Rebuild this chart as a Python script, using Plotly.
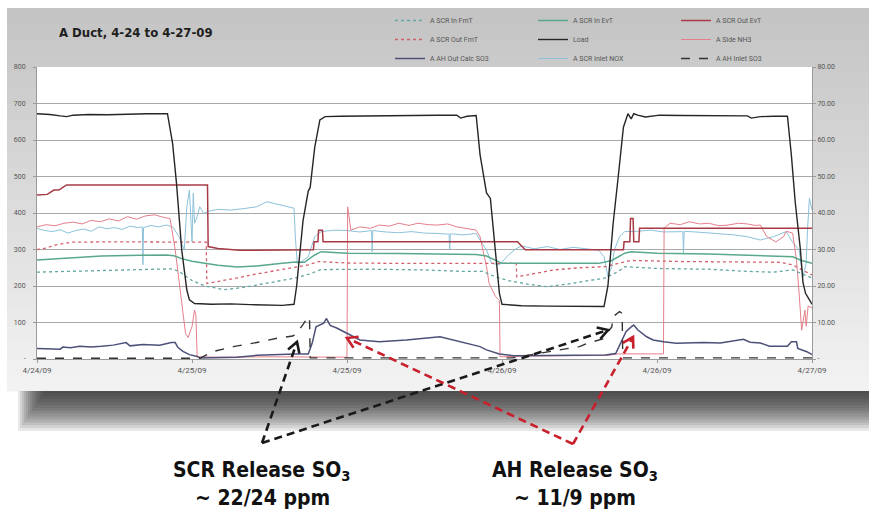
import pandas as pd
import plotly.graph_objects as go

# ---------------- data (hours after 4/24/09 12:00) ----------------
START = pd.Timestamp("2009-04-24 12:00")
tick_hours = [0, 12, 24, 36, 48, 60]
tick_labels = ["4/24/09", "4/25/09", "4/25/09", "4/26/09", "4/26/09", "4/27/09"]
left_ticks = [0, 100, 200, 300, 400, 500, 600, 700, 800]
left_labels = ["-", "100", "200", "300", "400", "500", "600", "700", "800"]
right_ticks = [0, 10, 20, 30, 40, 50, 60, 70, 80]
right_labels = ["-", "10.00", "20.00", "30.00", "40.00", "50.00", "60.00", "70.00", "80.00"]

load_h = [0, 1.0, 1.8, 2.3, 2.8, 4.0, 5.5, 7.0, 8.5, 9.5, 10.1, 10.5, 10.8, 11.2, 11.6,
          11.8, 12.2, 13.5, 15.0, 16.5, 18.0, 19.0, 19.9, 20.1, 20.6, 21.0, 21.15, 21.5, 21.9, 22.3,
          23.5, 25.0, 27.0, 29.0, 31.0, 32.5, 32.8, 33.3, 34.0, 34.3, 34.6, 34.8, 35.1, 35.5, 35.8,
          36.0, 37.5, 39.5, 41.5, 43.0, 43.9, 44.2, 44.6, 45.0, 45.4, 45.75, 46.0, 46.2, 46.5, 47.1,
          48.2, 50.0, 52.0, 54.0, 55.0, 55.3, 56.0, 57.0, 58.1, 58.4, 58.7, 59.1, 59.3, 59.5, 59.85, 60.0]
load_v = [672, 670, 666, 664, 668, 670, 669, 671, 672, 672, 672, 590, 481, 300, 189,
          162, 152, 150, 151, 149, 148, 147, 150, 200, 380, 460, 470, 580, 655, 664,
          665, 666, 667, 668, 668, 668, 660, 665, 667, 560, 500, 455, 440, 300, 180,
          150, 146, 145, 144, 143, 144, 200, 370, 500, 635, 672, 658, 672, 668, 663,
          668, 667, 667, 668, 666, 660, 664, 665, 665, 560, 430, 300, 210, 180, 160, 150]

scr_out_evt_h = [0, 0.8, 1.3, 1.7, 2.0, 2.3, 2.6, 13.2, 13.25, 14.0, 15.7, 21.4, 21.45, 21.75,
                 21.8, 22.1, 22.15, 37.2, 37.8, 45.4, 45.45, 45.9, 45.95, 46.15, 46.2, 46.6, 46.65, 60]
scr_out_evt_v = [449, 451, 463, 463, 470, 477, 477, 477, 308, 303, 298, 299, 321, 321,
                 353, 353, 321, 321, 299, 299, 321, 321, 385, 385, 321, 321, 358, 358]

scr_out_fmt_h = [0, 0.7, 1.4, 2.0, 2.7, 6.0, 10.0, 13.1, 13.15, 14.0, 15.5, 17.0, 19.0, 20.5, 21.0,
                 21.8, 24.0, 28.0, 32.0, 37.1, 37.15, 38.5, 40.0, 42.0, 44.0, 45.0, 46.0, 50.0, 54.0,
                 57.5, 58.5, 59.5, 60]
scr_out_fmt_v = [300, 304, 312, 316, 320, 321, 320, 320, 207, 212, 222, 233, 245, 253, 258,
                 267, 263, 262, 262, 262, 225, 235, 244, 250, 253, 262, 270, 267, 265,
                 265, 258, 240, 230]

scr_in_fmt_h = [0, 3, 6, 9, 10.4, 11.0, 12.0, 13.0, 14.5, 16.0, 18.0, 20.0, 21.0, 22.0, 26.0,
                30.0, 33.0, 34.5, 35.5, 36.5, 38.0, 39.5, 41.0, 43.0, 44.0, 45.0, 45.5, 48.0, 52.0,
                55.0, 57.0, 58.5, 59.5, 60]
scr_in_fmt_v = [238, 240, 243, 245, 247, 240, 215, 200, 190, 196, 210, 222, 232, 245, 246,
                244, 240, 240, 225, 215, 205, 198, 205, 217, 222, 240, 253, 248, 246,
                240, 238, 244, 230, 222]

scr_in_evt_h = [0, 2, 5, 8, 10, 10.6, 11.2, 12, 13, 14, 15.5, 17, 19, 20, 20.7, 21.5, 22, 24, 28, 32,
                34, 34.8, 35.5, 36, 40, 43.5, 44.5, 45.5, 46, 48, 52, 56, 58.5, 59.2, 60]
scr_in_evt_v = [271, 275, 282, 284, 285, 283, 275, 268, 262, 257, 252, 255, 262, 266, 265, 285, 294,
                290, 289, 288, 286, 282, 270, 262, 262, 262, 270, 290, 294, 290, 288, 284, 280, 270, 262]

nox_h = [0, 0.6, 1.2, 1.8, 2.4, 3.0, 3.6, 4.2, 4.8, 5.4, 6.0, 6.6, 7.2, 7.8, 8.15, 8.2, 8.25, 8.8,
         9.4, 10.0, 10.5, 11.0, 11.4, 11.6, 11.8, 12.0, 12.1, 12.2, 12.4, 12.6, 12.9, 13.3, 14.0,
         15.0, 16.0, 17.0, 17.8, 18.5, 19.0, 19.5, 19.9, 20.0, 20.15, 20.4, 21.0, 21.5, 22.0, 23.0,
         24.0, 25.0, 25.9, 25.95, 26.0, 27.0, 28.0, 29.0, 30.0, 31.0, 31.9, 31.95, 32.0, 33.0, 34.0,
         34.4, 34.8, 35.2, 35.8, 36.5, 37.0, 37.5, 38.5, 39.5, 40.5, 41.5, 42.5, 43.5, 43.9, 44.2,
         44.5, 44.7, 45.1, 45.5, 46.5, 47.5, 48.5, 49.5, 50.0, 50.05, 50.1, 51.0, 52.0, 53.0, 54.0,
         55.0, 55.5, 56.0, 57.0, 58.0, 58.5, 59.0, 59.3, 59.55, 59.65, 59.8, 60]
nox_v = [358, 352, 349, 354, 345, 352, 356, 350, 362, 357, 360, 355, 364, 360, 362, 258, 360, 366,
         362, 367, 362, 335, 299, 417, 463, 321, 454, 372, 390, 417, 399, 405, 410,
         408, 412, 417, 431, 425, 420, 415, 413, 335, 262, 265, 280, 335, 349, 353,
         352, 348, 352, 294, 352, 348, 346, 349, 345, 344, 342, 299, 343, 340, 344,
         320, 299, 262, 258, 285, 300, 310, 302, 308, 300, 306, 302, 298, 280, 225,
         253, 299, 335, 349, 350, 353, 348, 350, 349, 290, 350, 348, 346, 344, 340,
         335, 330, 326, 335, 349, 320, 299, 225, 262, 353, 440, 408]

nh3_h = [0, 0.7, 1.4, 2.1, 2.8, 3.5, 4.2, 4.9, 5.6, 6.3, 7.0, 7.7, 8.4, 9.1, 9.8, 10.3, 10.7, 11.1,
         11.5, 11.7, 12.0, 12.2, 12.3, 12.4, 14.0, 18.0, 22.0, 24.0, 24.05, 24.3, 25.0, 25.8, 26.5,
         27.3, 28.0, 28.8, 29.5, 30.3, 31.0, 31.8, 32.5, 33.3, 34.0, 34.3, 34.8, 35.0, 35.5, 35.8,
         35.85, 38.0, 42.0, 44.2, 45.0, 48.5, 48.55, 49.0, 49.8, 50.5, 51.3, 52.0, 52.8, 53.5, 54.3,
         55.0, 55.6, 56.0, 56.5, 57.2, 57.8, 58.0, 58.5, 58.8, 59.0, 59.2, 59.45, 59.55, 59.7, 60]
nh3_v = [362, 368, 365, 372, 375, 370, 380, 376, 384, 378, 390, 383, 392, 395, 388, 385, 299, 180,
         70, 59, 89, 134, 120, 6, 5, 6, 5, 5, 417, 353, 362, 358, 367,
         364, 372, 366, 372, 368, 367, 370, 362, 358, 353, 335, 253, 207, 171, 160,
         6, 8, 10, 10, 14, 14, 358, 372, 368, 376, 370, 372, 365, 367, 372,
         370, 366, 367, 335, 321, 335, 350, 345, 271, 181, 79, 134, 90, 145, 140]

so3_out_h = [0, 1.0, 1.8, 2.0, 2.6, 3.3, 4.2, 5.0, 5.9, 6.9, 7.2, 8.2, 9.5, 10.4, 10.7, 10.9, 11.3,
             11.8, 12.4, 12.6, 14.0, 15.5, 17.0, 18.5, 20.0, 21.0, 21.3, 21.6, 22.2, 22.4, 22.7, 23.2,
             24.0, 25.0, 26.5, 28.6, 31.2, 32.2, 33.3, 34.3, 34.8, 35.8, 36.9, 40.7, 42.8, 44.0, 44.8,
             45.2, 45.6, 46.0, 46.2, 46.5, 47.2, 47.7, 48.5, 49.5, 51.6, 52.9, 53.6, 54.7, 55.2, 56.0,
             56.7, 58.1, 58.4, 58.8, 58.9, 59.6, 60]
so3_out_ppm = [2.9, 2.8, 2.7, 3.3, 3.1, 3.5, 3.3, 3.5, 3.8, 4.5, 3.6, 4.0, 3.8, 4.5, 4.5, 3.2, 2.1,
               1.2, 0.7, 0.3, 0.4, 0.5, 1.0, 1.3, 1.4, 1.4, 4.3, 8.8, 9.8, 11.1, 9.2, 8.5,
               7.0, 5.2, 4.7, 5.2, 6.1, 5.2, 4.3, 3.4, 2.5, 1.4, 0.9, 1.1, 1.2, 1.1, 1.5,
               4.3, 7.5, 8.8, 9.3, 8.0, 6.1, 5.2, 4.7, 4.3, 4.5, 4.4, 4.8, 5.4, 4.6, 4.4,
               3.5, 3.5, 4.7, 4.7, 2.9, 2.0, 1.2]

so3_in_h = [0, 12.6, 13.6, 15.2, 17.3, 18.6, 19.8, 20.1, 20.6, 21.0, 21.1, 21.15, 36.8, 39.5, 42.0,
            42.6, 43.8, 44.2, 44.5, 44.6, 44.9, 45.1, 45.3, 45.35, 60]
so3_in_ppm = [0.2, 0.2, 2.0, 3.4, 4.7, 5.7, 6.3, 7.0, 9.5, 11.6, 11.2, 0.3, 0.3, 2.0, 3.4,
              4.3, 5.5, 7.5, 8.8, 11.6, 12.5, 13.0, 12.5, 0.3, 0.3]

# ---------------- helpers ----------------
def when(hours):
    return [START + pd.Timedelta(hours=h) for h in hours]

PL, PR, PT, PB = 37, 812, 67, 359  # plot area in pixels (for decorations)
def px(x):
    return (x - PL) / (PR - PL)
def py(y):
    return (PB - y) / (PB - PT)

NARROW = "DejaVu Sans Condensed, Open Sans Condensed, Roboto Condensed, Roboto, sans-serif"
SMALL = "Roboto, Lato, sans-serif"

series = [
    ("A SCR Inlet NOX", nox_h, nox_v, "#8cc2da", 1.0, "solid", "legend2", 3, "y"),
    ("A Side NH3", nh3_h, nh3_v, "#e57f8a", 1.0, "solid", "legend3", 2, "y"),
    ("A SCR In FmT", scr_in_fmt_h, scr_in_fmt_v, "#62a6a2", 1.3, "dot", "legend", 1, "y"),
    ("A SCR Out FmT", scr_out_fmt_h, scr_out_fmt_v, "#d2606c", 1.3, "dot", "legend", 2, "y"),
    ("A SCR In EvT", scr_in_evt_h, scr_in_evt_v, "#5aa88c", 1.5, "solid", "legend2", 1, "y"),
    ("A SCR Out EvT", scr_out_evt_h, scr_out_evt_v, "#a83a46", 1.5, "solid", "legend3", 1, "y"),
    ("A AH Out Calc SO3", so3_out_h, so3_out_ppm, "#4c5078", 1.5, "solid", "legend", 3, "y2"),
    ("A AH Inlet SO3", so3_in_h, so3_in_ppm, "#333333", 1.4, "dash", "legend3", 3, "y2"),
    ("Load", load_h, load_v, "#262626", 1.4, "solid", "legend2", 2, "y"),
]

fig = go.Figure()
for name, hrs, vals, color, width, dash, leg, rank, axis in series:
    assert len(hrs) == len(vals), name
    fig.add_trace(go.Scatter(
        x=when(hrs), y=vals, name=name, mode="lines", yaxis=axis,
        line=dict(color=color, width=width, dash=dash),
        legend=leg, legendrank=rank, hoverinfo="skip"))

shapes = []
# gray chart frame with vertical gradient
top, bot, nb = 8, 391, 24
for i in range(nb):
    y0 = top + (bot - top) * i / nb
    y1 = top + (bot - top) * (i + 1) / nb + 0.6
    c = int(196 + (243 - 196) * (i + 0.5) / nb)
    shapes.append(dict(type="rect", xref="paper", yref="paper", layer="below",
                       x0=px(7), x1=px(869), y0=py(y1), y1=py(y0),
                       line=dict(width=0), fillcolor=f"rgb({c},{c},{c})"))
# soft drop shadow under the frame (overlapping translucent bands)
ns = 14
for i in range(ns):
    h = 40 * (i + 1) / ns
    shapes.append(dict(type="rect", xref="paper", yref="paper", layer="below",
                       x0=px(44 - 2 * i), x1=px(869), y0=py(bot + h), y1=py(bot),
                       line=dict(width=0), fillcolor="rgba(40,40,40,0.105)"))
# white plot area
shapes.append(dict(type="rect", xref="paper", yref="paper", layer="below",
                   x0=0, x1=1, y0=0, y1=1, line=dict(width=0), fillcolor="white"))

# dashed callout lines with open arrowheads
callouts = [
    ((262, 443), (297, 342), "#1a1a1a"),
    ((262, 443), (608, 330), "#1a1a1a"),
    ((573, 444), (347, 338), "#c8202c"),
    ((573, 444), (633, 337), "#c8202c"),
]
for (x0, y0), (x1, y1), col in callouts:
    shapes.append(dict(type="line", xref="paper", yref="paper", layer="above",
                       x0=px(x0), y0=py(y0), x1=px(x1), y1=py(y1),
                       line=dict(color=col, width=2.6, dash="8px,5px")))
    dx, dy = x1 - x0, y1 - y0
    n = (dx * dx + dy * dy) ** 0.5
    ux, uy = dx / n, dy / n
    L, W = 10, 6
    ax_, ay_ = x1 - L * ux - W * uy, y1 - L * uy + W * ux
    bx_, by_ = x1 - L * ux + W * uy, y1 - L * uy - W * ux
    path = (f"M {px(ax_):.5f},{py(ay_):.5f} L {px(x1):.5f},{py(y1):.5f} "
            f"L {px(bx_):.5f},{py(by_):.5f}")
    shapes.append(dict(type="path", xref="paper", yref="paper", layer="above", path=path,
                       line=dict(color=col, width=2.6)))

annotations = [
    dict(xref="paper", yref="paper", x=px(57), y=py(32), xanchor="left", yanchor="middle",
         text="<b>A Duct, 4-24 to 4-27-09</b>", showarrow=False,
         font=dict(family=NARROW, size=13, color="#1e1e1e")),
    dict(xref="paper", yref="paper", x=px(262), y=py(471), xanchor="center", yanchor="middle",
         text="<b>SCR Release SO<sub>3</sub></b>", showarrow=False,
         font=dict(family=NARROW, size=21, color="#111111")),
    dict(xref="paper", yref="paper", x=px(262), y=py(498), xanchor="center", yanchor="middle",
         text="<b>~ 22/24 ppm</b>", showarrow=False,
         font=dict(family=NARROW, size=21, color="#111111")),
    dict(xref="paper", yref="paper", x=px(575), y=py(471), xanchor="center", yanchor="middle",
         text="<b>AH Release SO<sub>3</sub></b>", showarrow=False,
         font=dict(family=NARROW, size=21, color="#111111")),
    dict(xref="paper", yref="paper", x=px(575), y=py(498), xanchor="center", yanchor="middle",
         text="<b>~ 11/9 ppm</b>", showarrow=False,
         font=dict(family=NARROW, size=21, color="#111111")),
]

legend_style = dict(orientation="v", xanchor="left", yanchor="top", bgcolor="rgba(0,0,0,0)",
                    font=dict(family=SMALL, size=7, color="#555555"), itemwidth=30,
                    tracegroupgap=0)
axis_font = dict(family=SMALL, size=7, color="#555555")

fig.update_layout(
    width=869, height=512,
    margin=dict(l=37, r=57, t=67, b=153, pad=0, autoexpand=False),
    paper_bgcolor="white", plot_bgcolor="white", showlegend=True,
    xaxis=dict(type="date", range=[START, START + pd.Timedelta(hours=60)],
               tickvals=when(tick_hours), ticktext=tick_labels, showgrid=False,
               showline=True, linecolor="#9a9a9a", linewidth=1, ticks="outside", ticklen=3,
               tickcolor="#9a9a9a", tickfont=dict(family=SMALL, size=8, color="#555555"),
               zeroline=False),
    yaxis=dict(range=[0, 800], tickvals=left_ticks, ticktext=left_labels, showgrid=True,
               gridcolor="#a8a8a8", gridwidth=1, showline=True, linecolor="#9a9a9a",
               ticks="outside", ticklen=3, tickcolor="#9a9a9a", tickfont=axis_font,
               ticklabelstandoff=6, zeroline=False),
    yaxis2=dict(range=[0, 80], overlaying="y", side="right", tickvals=right_ticks,
                ticktext=right_labels, showgrid=False, showline=True, linecolor="#9a9a9a",
                ticks="outside", ticklen=3, tickcolor="#9a9a9a", tickfont=axis_font,
                zeroline=False),
    legend=dict(legend_style, x=px(390), y=py(6)),
    legend2=dict(legend_style, x=px(533), y=py(6)),
    legend3=dict(legend_style, x=px(676), y=py(6)),
    shapes=shapes, annotations=annotations,
)

fig.write_html("out.html")
